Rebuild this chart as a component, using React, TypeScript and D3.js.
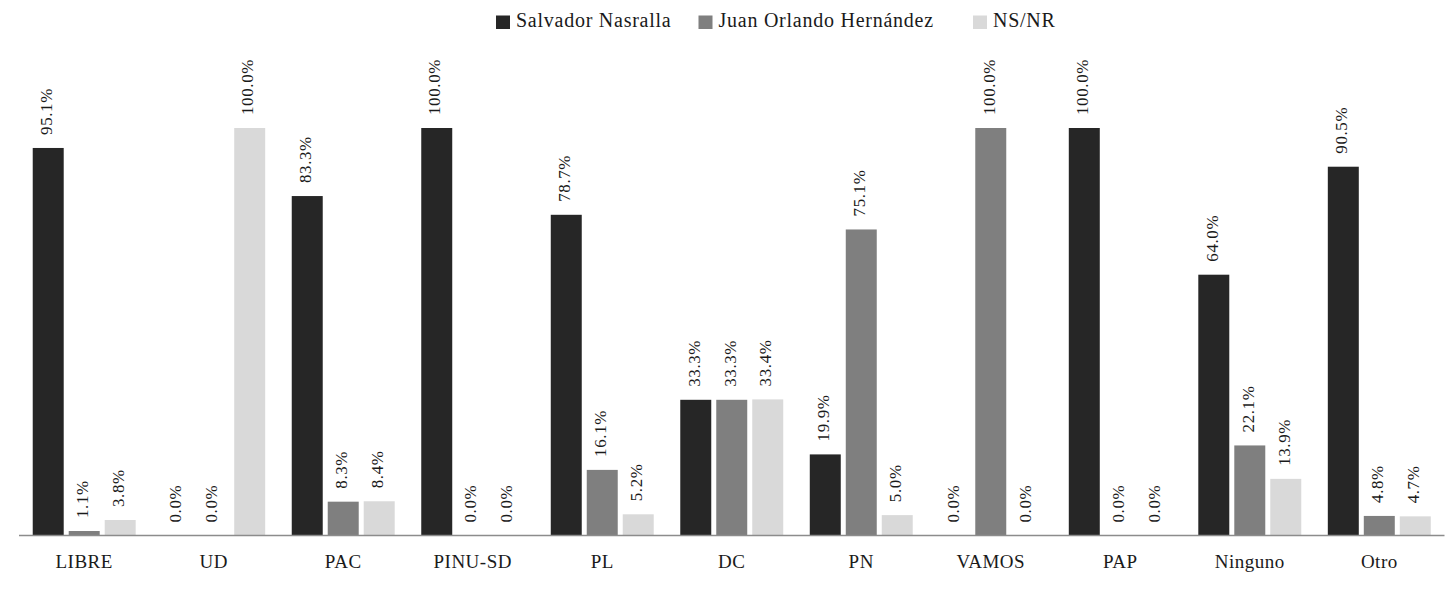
import React from 'react';
import * as d3 from 'd3';

const categories = ['LIBRE', 'UD', 'PAC', 'PINU-SD', 'PL', 'DC', 'PN', 'VAMOS', 'PAP', 'Ninguno', 'Otro'];
const seriesNames = ['Salvador Nasralla', 'Juan Orlando Hernández', 'NS/NR'];
const nasralla = [95.1, 0.0, 83.3, 100.0, 78.7, 33.3, 19.9, 0.0, 100.0, 64.0, 90.5];
const hernandez = [1.1, 0.0, 8.3, 0.0, 16.1, 33.3, 75.1, 100.0, 0.0, 22.1, 4.8];
const nsnr = [3.8, 100.0, 8.4, 0.0, 5.2, 33.4, 5.0, 0.0, 0.0, 13.9, 4.7];
const colors = ['#262626', '#7f7f7f', '#d9d9d9'];

const W = 1453;
const H = 598;
const FONT = "'Liberation Serif', 'Times New Roman', serif";

const App = () => {
    const left = 19;
    const right = 1444.5;
    const base = 535.5;
    const top = 128;

    const x0 = d3.scaleBand().domain(categories).range([left, right]).paddingInner(0.205).paddingOuter(0.106);
    const x1 = d3.scaleBand().domain(seriesNames).range([0, x0.bandwidth()]).paddingInner(0.139);
    const y = d3.scaleLinear().domain([0, 100]).range([base, top]);
    const all = [nasralla, hernandez, nsnr];
    const legendX = [496, 698.5, 973];

    return (
        <svg width={W} height={H} style={{ position: 'absolute', left: 0, top: 0, background: '#fff' }}>
            {categories.map((c, i) => (
                <g key={c}>
                    {seriesNames.map((s, j) => {
                        const v = all[j][i];
                        const cx = x0(c) + x1(s) + x1.bandwidth() / 2;
                        return (
                            <g key={s}>
                                <rect x={x0(c) + x1(s)} y={y(v)} width={x1.bandwidth()} height={base - y(v)} fill={colors[j]} />
                                <text transform={`translate(${cx},${y(v) - 13}) rotate(-90)`} dy="0.22em"
                                    fontFamily={FONT} fontSize={17} letterSpacing={0.6} fill="#1a1a1a">{`${v.toFixed(1)}%`}</text>
                            </g>
                        );
                    })}
                    <text x={x0(c) + x0.bandwidth() / 2} y={568} textAnchor="middle"
                        fontFamily={FONT} fontSize={19} letterSpacing={0.5} fill="#1a1a1a">{c}</text>
                </g>
            ))}
            <line x1={left} x2={right} y1={base} y2={base} stroke="#8c8c8c" strokeWidth={1.5} />
            {seriesNames.map((s, i) => (
                <g key={s}>
                    <rect x={legendX[i]} y={15.5} width={14} height={13.5} fill={colors[i]} />
                    <text x={legendX[i] + 20} y={27} fontFamily={FONT} fontSize={20} letterSpacing={0.75} fill="#1a1a1a">{s}</text>
                </g>
            ))}
        </svg>
    );
};

export default App;
